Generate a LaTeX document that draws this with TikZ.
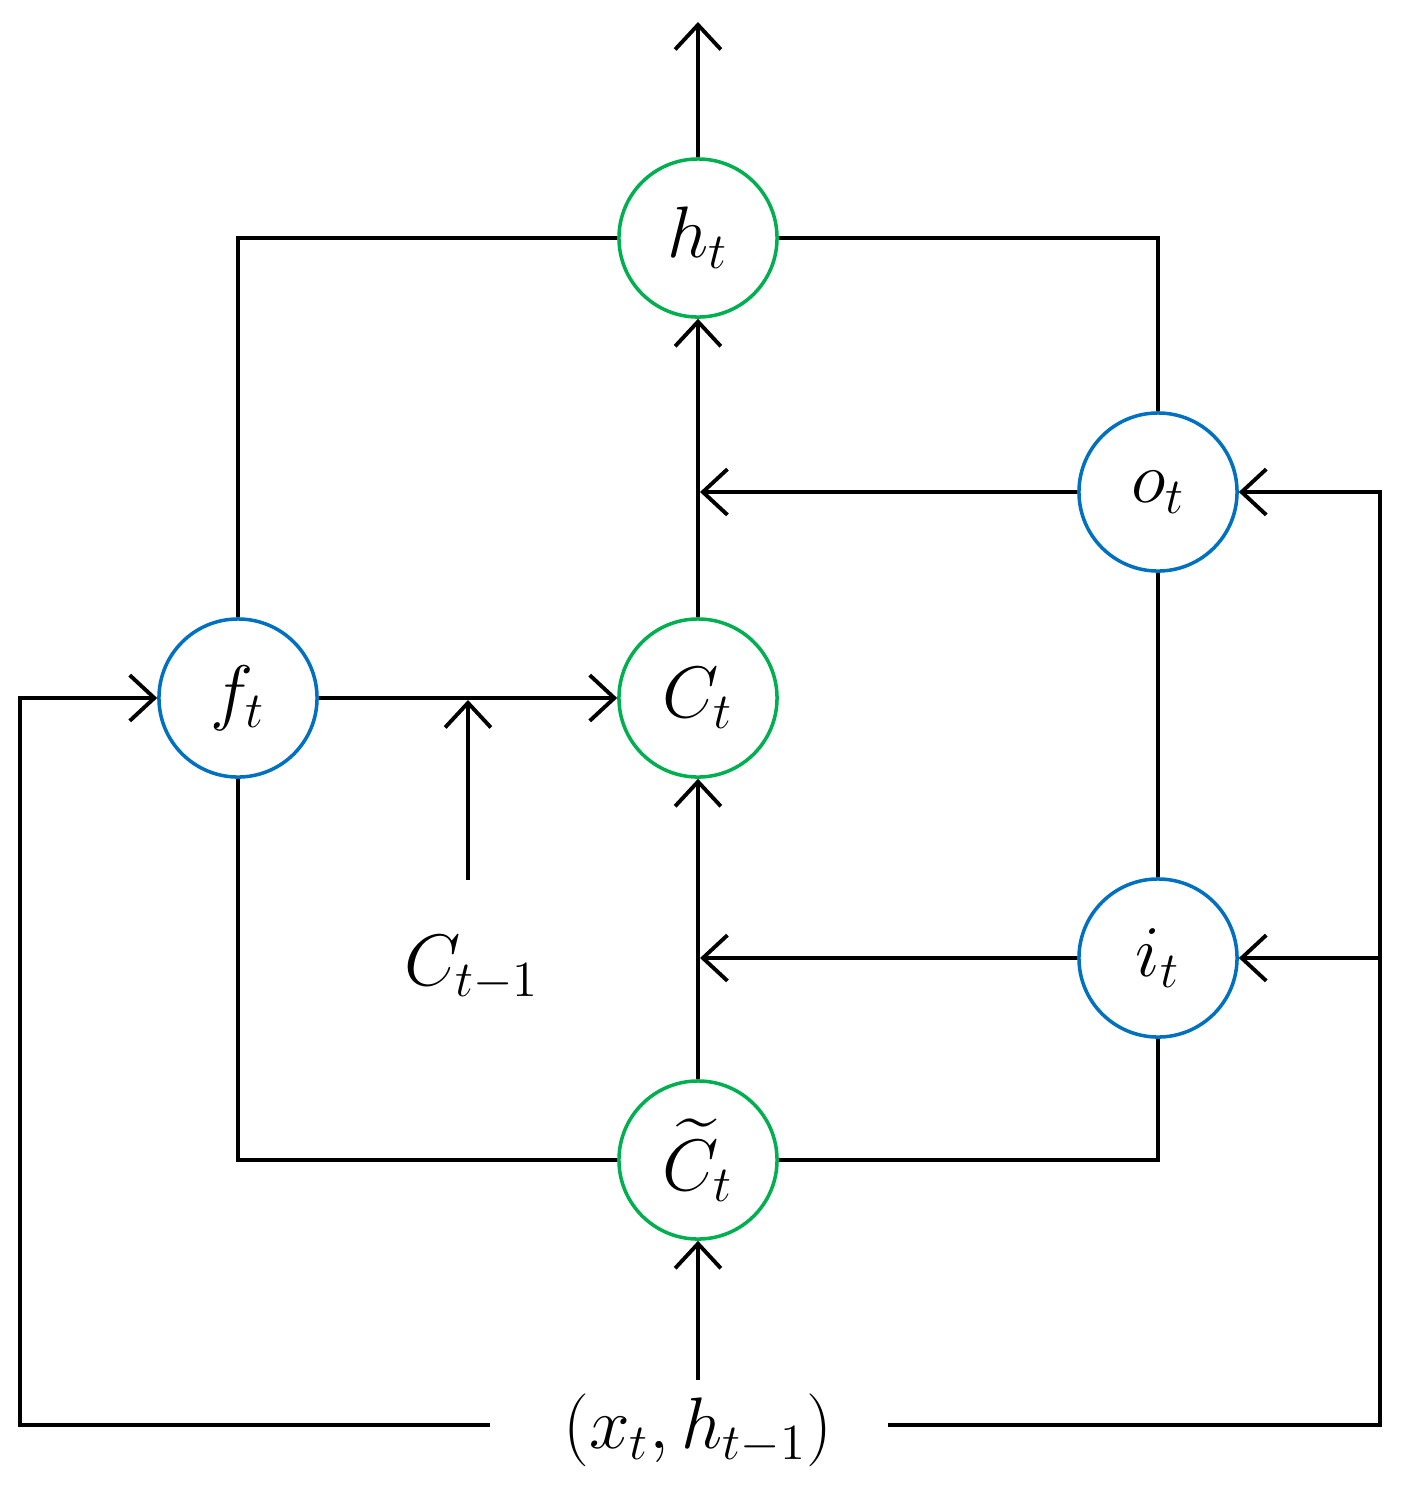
\documentclass[tikz,border=0pt]{standalone}
\usepackage{amsmath}
\usepackage{tikz}
\usetikzlibrary{arrows.meta}
\definecolor{gatebl}{RGB}{0,112,192}
\definecolor{cellgr}{RGB}{0,176,80}
\begin{document}
\begin{tikzpicture}[x=0.01cm,y=-0.01cm,
    gate/.style={circle,draw=gatebl,line width=1pt,minimum size=1.58cm,inner sep=0pt,fill=white,font=\fontsize{22}{26}\selectfont},
    cell/.style={gate,draw=cellgr},
    wire/.style={line width=1.1pt},
    arr/.style={wire,-{Straight Barb[length=7pt,width=13pt,line width=1.1pt]}},
    lbl/.style={font=\fontsize{22}{26}\selectfont}]
  \useasboundingbox (0,0) rectangle (1407,1496);
  % nodes
  \node[cell] (h) at (698,238) {$h_t$};
  \node[cell] (c) at (698,698) {$C_t$};
  \node[cell] (ct) at (698,1160) {$\widetilde{C}_t$};
  \node[gate] (f) at (238,698) {$f_t$};
  \node[gate] (o) at (1158,492) {$o_t$};
  \node[gate] (i) at (1158,958) {$i_t$};
  \node[lbl] (cprev) at (472,968) {$C_{t-1}$};
  \node[lbl] (in) at (698,1430) {$(x_t, h_{t-1})$};
  % helper coordinates
  \coordinate (top) at (698,22);
  \coordinate (oj) at (700,492);
  \coordinate (ij) at (700,958);
  \coordinate (cj) at (468,700);
  \coordinate (cb) at (468,880);
  \coordinate (inb) at (698,1380);
  \coordinate (lgap) at (490,1425);
  \coordinate (rgap) at (888,1425);
  \coordinate (ll) at (20,1425);
  \coordinate (lu) at (20,698);
  \coordinate (rl) at (1380,1425);
  \coordinate (ru) at (1380,492);
  \coordinate (rm) at (1380,958);
  % connectors
  \draw[arr] (h) -- (top);
  \draw[wire] (h) -| (f);
  \draw[wire] (h) -| (o);
  \draw[wire] (o) -- (i);
  \draw[wire] (i) |- (ct);
  \draw[wire] (f) |- (ct);
  \draw[arr] (ct) -- (c);
  \draw[arr] (c) -- (h);
  \draw[arr] (o) -- (oj);
  \draw[arr] (i) -- (ij);
  \draw[arr] (f) -- (c);
  \draw[arr] (cb) -- (cj);
  \draw[arr] (inb) -- (ct);
  \draw[arr] (lgap) -- (ll) -- (lu) -- (f);
  \draw[arr] (rgap) -- (rl) -- (ru) -- (o);
  \draw[arr] (rm) -- (i);
\end{tikzpicture}
\end{document}
